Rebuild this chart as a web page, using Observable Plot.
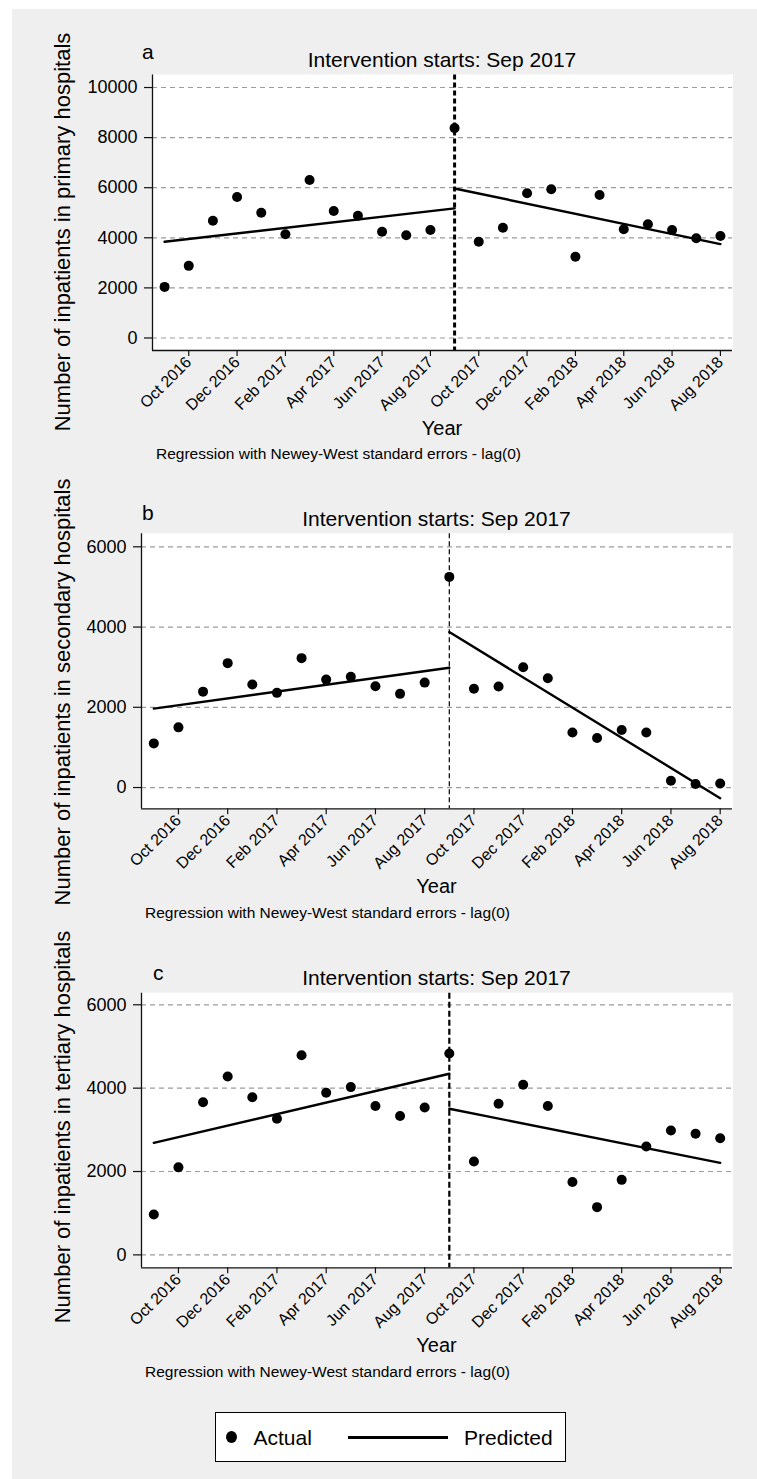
<!DOCTYPE html>
<html><head><meta charset="utf-8">
<script src="https://cdn.jsdelivr.net/npm/d3@7"></script>
<script src="https://cdn.jsdelivr.net/npm/@observablehq/plot@0.6"></script>
<style>
body{margin:0;background:#fff;}
#page{position:relative;width:757px;height:1479px;overflow:hidden;font-family:"Liberation Sans",Arial,sans-serif;color:#000;}
#bg{position:absolute;left:12px;top:9px;right:0;bottom:0;background:#efefef;}
.t{position:absolute;white-space:nowrap;line-height:1;}
.pw{position:absolute;left:0;}
</style></head><body><div id="page"><div id="bg"></div></div>
<script>
// ---------- data ----------
const months = ["Sep 2016","Oct 2016","Nov 2016","Dec 2016","Jan 2017","Feb 2017","Mar 2017","Apr 2017","May 2017","Jun 2017","Jul 2017","Aug 2017",
                "Sep 2017","Oct 2017","Nov 2017","Dec 2017","Jan 2018","Feb 2018","Mar 2018","Apr 2018","May 2018","Jun 2018","Jul 2018","Aug 2018"];
const tickMonths = ["Oct 2016","Dec 2016","Feb 2017","Apr 2017","Jun 2017","Aug 2017","Oct 2017","Dec 2017","Feb 2018","Apr 2018","Jun 2018","Aug 2018"];
const interventionMonth = "Sep 2017";

const primaryActual   = [2040,2880,4680,5630,5000,4140,6310,5070,4880,4240,4100,4310,8380,3840,4400,5780,5940,3240,5710,4340,4540,4310,3980,4070];
const secondaryActual = [1100,1500,2390,3100,2570,2360,3225,2690,2760,2525,2335,2615,5250,2460,2520,3000,2725,1370,1235,1435,1370,170,90,100];
const tertiaryActual  = [970,2100,3660,4280,3780,3265,4790,3890,4025,3570,3330,3535,4830,2240,3625,4080,3570,1750,1145,1800,2600,2985,2905,2800];

const preFitMonths  = ["Sep 2016","Sep 2017"];
const postFitMonths = ["Sep 2017","Aug 2018"];
const primaryPredPre    = [3840, 5176];
const primaryPredPost   = [5968, 3750];
const secondaryPredPre  = [1968, 2985];
const secondaryPredPost = [3875, -265];
const tertiaryPredPre   = [2688, 4345];
const tertiaryPredPost  = [3505, 2209];

const primaryTicks   = [0,2000,4000,6000,8000,10000];
const secondaryTicks = [0,2000,4000,6000];
const tertiaryTicks  = [0,2000,4000,6000];

const panelLetters = ["a","b","c"];
const panelTitle = "Intervention starts: Sep 2017";
const yTitles = ["Number of inpatients in primary hospitals","Number of inpatients in secondary hospitals","Number of inpatients in tertiary hospitals"];
const xTitle = "Year";
const note = "Regression with Newey-West standard errors - lag(0)";
const legendLabels = ["Actual","Predicted"];

// ---------- layout ----------
const page = document.getElementById("page");
const W = 757, MR = 25;
const FONT = "'Liberation Sans', Arial, sans-serif";

function addText(txt, x, baseline, size, anchor) {
  const d = document.createElement("div");
  d.className = "t";
  d.textContent = txt;
  d.style.fontSize = size + "px";
  d.style.left = x + "px";
  d.style.top = (baseline - 0.8465 * size) + "px";
  if (anchor === "middle") d.style.transform = "translateX(-50%)";
  page.appendChild(d);
  return d;
}
function addVText(txt, baselineX, centerY, size) {
  const d = document.createElement("div");
  d.className = "t";
  d.textContent = txt;
  d.style.fontSize = size + "px";
  d.style.left = (baselineX - 0.8465 * size) + "px";
  d.style.top = centerY + "px";
  d.style.transformOrigin = "0 0";
  d.style.transform = "rotate(-90deg) translateX(-50%)";
  page.appendChild(d);
}

const panels = [
  {actual: primaryActual, pre: primaryPredPre, post: primaryPredPost, ticks: primaryTicks,
   svgTop: 0, svgH: 470, plotTop: 74.5, plotBottom: 350, ml: 152, yDomain: [-500, 10500],
   ruleW: 3, ruleDash: "5,3", letterX: 142, letterB: 58.5, yTitleC: 231.5},
  {actual: secondaryActual, pre: secondaryPredPre, post: secondaryPredPost, ticks: secondaryTicks,
   svgTop: 470, svgH: 460, plotTop: 533.3, plotBottom: 808.3, ml: 141, yDomain: [-530, 6324],
   ruleW: 1.2, ruleDash: "5,3", letterX: 142, letterB: 520, yTitleC: 692},
  {actual: tertiaryActual, pre: tertiaryPredPre, post: tertiaryPredPost, ticks: tertiaryTicks,
   svgTop: 930, svgH: 450, plotTop: 992.7, plotBottom: 1267.3, ml: 141, yDomain: [-310, 6278],
   ruleW: 2.2, ruleDash: "6,3", letterX: 153, letterB: 980, yTitleC: 1127}
];

const tickIdx = tickMonths.map(m => months.indexOf(m));
const ivIdx = months.indexOf(interventionMonth);

panels.forEach((p, k) => {
  const actual = months.map((m, i) => ({x: i, y: p.actual[i]}));
  const pre = preFitMonths.map((m, i) => ({x: months.indexOf(m), y: p.pre[i]}));
  const post = postFitMonths.map((m, i) => ({x: months.indexOf(m), y: p.post[i]}));
  const mt = p.plotTop - p.svgTop;
  const mb = p.svgTop + p.svgH - p.plotBottom;
  const chart = Plot.plot({
    width: W, height: p.svgH,
    marginTop: mt, marginBottom: mb, marginLeft: p.ml, marginRight: MR,
    style: {background: "transparent", fontFamily: FONT, color: "black", overflow: "visible"},
    x: {domain: [-0.5, 23.5], label: null},
    y: {domain: p.yDomain, label: null},
    marks: [
      Plot.frame({fill: "white", stroke: "white"}),
      Plot.gridY(p.ticks, {stroke: "#9c9c9c", strokeOpacity: 1, strokeWidth: 1.2, strokeDasharray: "5,4"}),
      Plot.ruleX([ivIdx], {stroke: "black", strokeWidth: p.ruleW, strokeDasharray: p.ruleDash}),
      Plot.line(pre, {x: "x", y: "y", stroke: "black", strokeWidth: 2.4}),
      Plot.line(post, {x: "x", y: "y", stroke: "black", strokeWidth: 2.4}),
      Plot.dot(actual, {x: "x", y: "y", r: 5, fill: "black", stroke: "none"}),
      Plot.ruleX([-0.5], {stroke: "#111", strokeWidth: 1.3}),
      Plot.ruleY([p.yDomain[0]], {stroke: "#111", strokeWidth: 1.3}),
      Plot.axisY(p.ticks, {tickSize: 8, tickPadding: 7, fontSize: 18, tickFormat: d => String(d), stroke: "#111", strokeWidth: 1.2, label: null}),
      Plot.axisX(tickIdx, {tickSize: 6, tickPadding: 3, fontSize: 16, tickRotate: -45, tickFormat: i => months[i], stroke: "#111", strokeWidth: 1.2, label: null})
    ]
  });
  const wrap = document.createElement("div");
  wrap.className = "pw";
  wrap.style.top = p.svgTop + "px";
  wrap.appendChild(chart);
  page.appendChild(wrap);

  const cx = (p.ml + (W - MR)) / 2;
  addText(panelLetters[k], p.letterX, p.letterB, 21);
  addText(panelTitle, cx, p.plotTop - 7.5, 21, "middle");
  addText(xTitle, cx, p.plotBottom + 84.5, 20, "middle");
  addText(note, p.ml + 4, p.plotBottom + 109.5, 15.5);
  addVText(yTitles[k], 71, p.yTitleC, 22);
});

// ---------- legend ----------
const lg = document.createElement("div");
lg.style.cssText = "position:absolute;left:215px;top:1412px;width:349px;height:48px;background:#fff;border:1px solid #000;";
page.appendChild(lg);
const ld = document.createElement("div");
ld.style.cssText = "position:absolute;left:226px;top:1431px;width:11px;height:12px;border-radius:50%;background:#000;";
page.appendChild(ld);
addText(legendLabels[0], 253.5, 1444.5, 21);
const ll = document.createElement("div");
ll.style.cssText = "position:absolute;left:348px;top:1435.5px;width:100px;height:3px;background:#000;";
page.appendChild(ll);
addText(legendLabels[1], 464, 1444.5, 21);
</script></body></html>
